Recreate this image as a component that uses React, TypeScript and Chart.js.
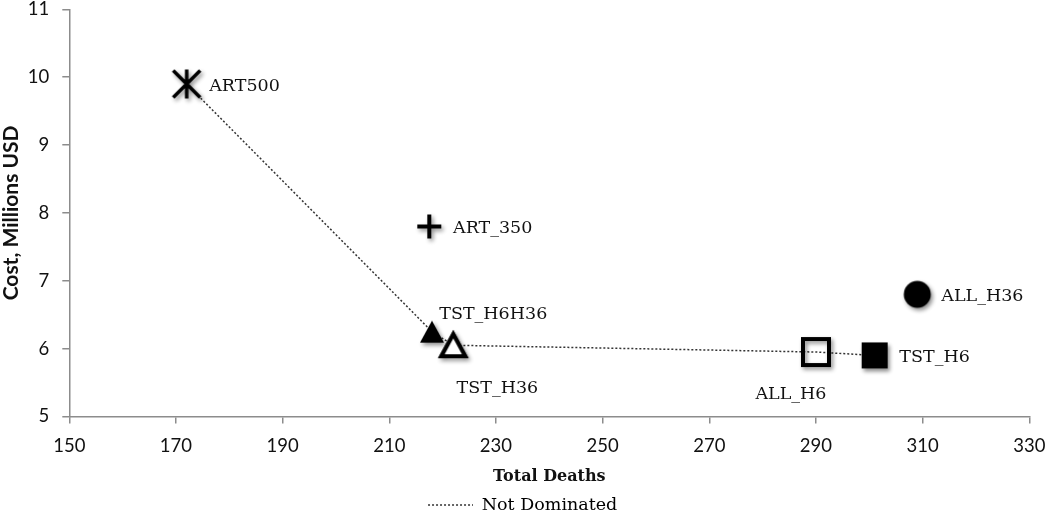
import React, { useEffect, useRef } from "react";
import { Chart, registerables } from "chart.js";

Chart.register(...registerables);

// ---- data ----
const strategies = ["ART500", "ART_350", "TST_H6H36", "TST_H36", "ALL_H6", "TST_H6", "ALL_H36"];
const totalDeaths = [172, 217.5, 218, 222, 290, 301, 309];
const costMillions = [9.9, 7.8, 6.25, 6.05, 5.95, 5.9, 6.8];
const notDominated = ["ART500", "TST_H6H36", "TST_H36", "ALL_H6", "TST_H6"];
const xTicks = [150, 170, 190, 210, 230, 250, 270, 290, 310, 330];
const yTicks = [5, 6, 7, 8, 9, 10, 11];

// ---- styles ----
const markerKinds: Record<string, string> = {
  ART500: "asterisk",
  ART_350: "plus",
  TST_H6H36: "triangleFilled",
  TST_H36: "triangleOpen",
  ALL_H6: "squareOpen",
  TST_H6: "squareFilled",
  ALL_H36: "circle",
};
const labelPlacement: Record<string, { align: CanvasTextAlign; dx: number; dy: number }> = {
  ART500: { align: "left", dx: 22.6, dy: 2.7 },
  ART_350: { align: "left", dx: 23.7, dy: 1.7 },
  TST_H6H36: { align: "left", dx: 7.3, dy: -17.3 },
  TST_H36: { align: "left", dx: 3.3, dy: 43 },
  ALL_H6: { align: "center", dx: -25, dy: 42.7 },
  TST_H6: { align: "left", dx: 24.7, dy: 1.7 },
  ALL_H36: { align: "left", dx: 24, dy: 1.8 },
};

function makeMarker(kind: string): HTMLCanvasElement {
  const dim = 48;
  const cv = document.createElement("canvas");
  cv.width = dim;
  cv.height = dim;
  const ctx = cv.getContext("2d")!;
  ctx.translate(dim / 2, dim / 2);
  const shadowOn = () => {
    ctx.shadowColor = "rgba(0,0,0,0.45)";
    ctx.shadowBlur = 4;
    ctx.shadowOffsetX = 2;
    ctx.shadowOffsetY = 2.5;
  };
  const shadowOff = () => {
    ctx.shadowColor = "rgba(0,0,0,0)";
    ctx.shadowBlur = 0;
    ctx.shadowOffsetX = 0;
    ctx.shadowOffsetY = 0;
  };
  shadowOn();
  ctx.fillStyle = "#000";
  ctx.strokeStyle = "#000";
  if (kind === "asterisk") {
    const r = 13.5;
    ctx.lineWidth = 3.5;
    ctx.beginPath();
    ctx.moveTo(-r, -r);
    ctx.lineTo(r, r);
    ctx.moveTo(r, -r);
    ctx.lineTo(-r, r);
    ctx.moveTo(0, -r - 1);
    ctx.lineTo(0, r + 1);
    ctx.stroke();
  } else if (kind === "plus") {
    const r = 12;
    ctx.lineWidth = 4;
    ctx.beginPath();
    ctx.moveTo(-r, 0);
    ctx.lineTo(r, 0);
    ctx.moveTo(0, -r);
    ctx.lineTo(0, r);
    ctx.stroke();
  } else if (kind === "triangleFilled") {
    const w = 24, h = 22;
    ctx.beginPath();
    ctx.moveTo(0, -h / 2);
    ctx.lineTo(w / 2, h / 2);
    ctx.lineTo(-w / 2, h / 2);
    ctx.closePath();
    ctx.fill();
  } else if (kind === "triangleOpen") {
    const w = 24, h = 22;
    ctx.beginPath();
    ctx.moveTo(0, -h / 2);
    ctx.lineTo(w / 2, h / 2);
    ctx.lineTo(-w / 2, h / 2);
    ctx.closePath();
    ctx.fillStyle = "#fff";
    ctx.lineWidth = 4;
    ctx.stroke();
    shadowOff();
    ctx.fill();
    ctx.stroke();
  } else if (kind === "squareOpen") {
    const s = 26;
    ctx.lineWidth = 4;
    ctx.strokeRect(-s / 2, -s / 2, s, s);
  } else if (kind === "squareFilled") {
    const s = 26;
    ctx.fillRect(-s / 2, -s / 2, s, s);
  } else if (kind === "circle") {
    ctx.beginPath();
    ctx.arc(0, 0, 13.5, 0, Math.PI * 2);
    ctx.fill();
  }
  return cv;
}

const pointLabelPlugin = {
  id: "pointLabels",
  afterDatasetsDraw(chart: any) {
    const { ctx, scales } = chart;
    const xs = scales.x;
    const ys = scales.y;
    ctx.save();
    ctx.font = '17.5px "DejaVu Serif"';
    ctx.fillStyle = "#111";
    ctx.textBaseline = "middle";
    strategies.forEach((s, i) => {
      const px = xs.getPixelForValue(totalDeaths[i]);
      const py = ys.getPixelForValue(costMillions[i]);
      const o = labelPlacement[s];
      ctx.textAlign = o.align;
      ctx.fillText(s, px + o.dx, py + o.dy);
    });
    ctx.restore();
  },
};

export default function App() {
  const ref = useRef<HTMLCanvasElement | null>(null);
  useEffect(() => {
    document.body.style.margin = "0";
    const canvas = ref.current!;
    const frontierData = notDominated.map((s) => {
      const i = strategies.indexOf(s);
      return { x: totalDeaths[i], y: costMillions[i] };
    });
    const markerSets = strategies.map((s, i) => ({
      type: "scatter" as const,
      label: s,
      data: [{ x: totalDeaths[i], y: costMillions[i] }],
      pointStyle: makeMarker(markerKinds[s]),
      pointRadius: 12,
      pointHoverRadius: 12,
      order: 1,
    }));
    const chart = new Chart(canvas, {
      type: "scatter",
      data: {
        datasets: [
          {
            type: "line" as const,
            label: "Not Dominated",
            data: frontierData,
            showLine: true,
            borderColor: "#333",
            borderWidth: 1.5,
            borderDash: [2, 2],
            pointRadius: 0,
            fill: false,
            order: 5,
          } as any,
          ...markerSets,
        ],
      },
      plugins: [pointLabelPlugin],
      options: {
        animation: false,
        responsive: false,
        maintainAspectRatio: false,
        layout: { autoPadding: false, padding: { left: 16, right: 20.7, top: 9.3, bottom: -10.75 } },
        plugins: {
          tooltip: { enabled: false },
          legend: {
            position: "bottom",
            labels: {
              usePointStyle: true,
              pointStyleWidth: 45,
              padding: 10,
              color: "#111",
              font: { family: '"DejaVu Serif"', size: 17.5 },
              generateLabels: () => [
                {
                  text: "Not Dominated",
                  pointStyle: "line",
                  lineDash: [2, 2],
                  strokeStyle: "#333",
                  lineWidth: 1.5,
                  fillStyle: "rgba(0,0,0,0)",
                  hidden: false,
                  datasetIndex: 0,
                } as any,
              ],
            },
          },
        },
        scales: {
          x: {
            type: "linear",
            min: xTicks[0],
            max: xTicks[xTicks.length - 1],
            afterBuildTicks: (scale: any) => {
              scale.ticks = xTicks.map((v) => ({ value: v }));
            },
            afterFit: (scale: any) => {
              scale.height = 69.75;
              scale.paddingLeft = 0;
              scale.paddingRight = 0;
            },
            ticks: {
              color: "#111",
              padding: 11,
              font: { family: "Lato", size: 18.5 },
            },
            grid: { drawOnChartArea: false, drawTicks: true, tickLength: 7, color: "#8c8c8c", lineWidth: 1.5 },
            border: { color: "#8c8c8c", width: 1.5 },
            title: {
              display: true,
              text: "Total Deaths",
              color: "#111",
              font: { family: '"DejaVu Serif"', size: 16, weight: "bold" },
              padding: { top: 0, bottom: 0 },
            },
          },
          y: {
            type: "linear",
            min: yTicks[0],
            max: yTicks[yTicks.length - 1],
            afterBuildTicks: (scale: any) => {
              scale.ticks = yTicks.map((v) => ({ value: v }));
            },
            afterFit: (scale: any) => {
              scale.width = 53.3;
              scale.paddingTop = 0;
              scale.paddingBottom = 0;
            },
            ticks: {
              color: "#111",
              padding: 13,
              font: { family: "Lato", size: 18.5 },
            },
            grid: { drawOnChartArea: false, drawTicks: true, tickLength: 7, color: "#8c8c8c", lineWidth: 1.5 },
            border: { color: "#8c8c8c", width: 1.5 },
            title: {
              display: true,
              text: "Cost, Millions USD",
              color: "#111",
              font: { family: "Lato", size: 21, weight: "bold" },
              padding: { top: -17.6, bottom: 0 },
            },
          },
        },
      },
    });
    return () => chart.destroy();
  }, []);
  return (
    <div style={{ width: 1050, height: 513 }}>
      <canvas ref={ref} width={1050} height={513} style={{ display: "block" }} />
    </div>
  );
}
